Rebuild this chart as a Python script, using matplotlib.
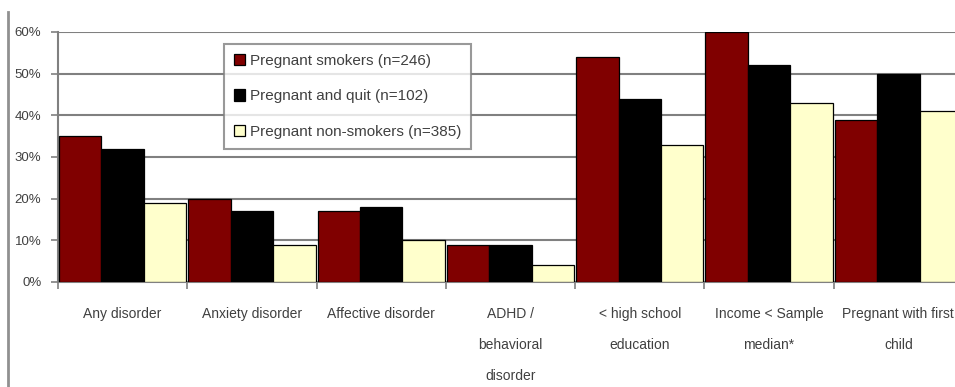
import matplotlib.pyplot as plt
import numpy as np
from matplotlib.lines import Line2D

plt.rcParams['font.family'] = ['Liberation Sans', 'DejaVu Sans']

categories = ['Any disorder', 'Anxiety disorder', 'Affective disorder',
              'ADHD /\nbehavioral\ndisorder', '< high school\neducation',
              'Income < Sample\nmedian*', 'Pregnant with first\nchild']
smokers = [35, 20, 17, 9, 54, 60, 39]
quit_ = [32, 17, 18, 9, 44, 52, 50]
non_smokers = [19, 9, 10, 4, 33, 43, 41]
series_labels = ['Pregnant smokers (n=246)', 'Pregnant and quit (n=102)',
                 'Pregnant non-smokers (n=385)']
colors = ['#800000', '#000000', '#FFFFCC']

fig = plt.figure(figsize=(9.55, 3.87), dpi=100)
ax = fig.add_axes([58 / 955, 1 - 282 / 387, 905 / 955, 250 / 387])

x = np.arange(len(categories))
w = 0.328
for i, (vals, c, lab) in enumerate(zip([smokers, quit_, non_smokers], colors, series_labels)):
    ax.bar(x + (i - 1) * w, vals, width=w, color=c, edgecolor='black',
           linewidth=0.9, label=lab, zorder=3)

ax.set_xlim(-0.5, len(categories) - 0.5)
ax.set_ylim(0, 60)
ax.set_yticks(range(0, 61, 10))
ax.set_yticklabels([f'{v}%' for v in range(0, 61, 10)], fontsize=9.5, color='#404040')
ax.yaxis.grid(True, color='#808080', linewidth=1.5, zorder=0)

# ticks between category groups, labels centred under each group
ax.set_xticks(np.arange(-0.5, len(categories), 1))
ax.set_xticklabels([])
ax.set_xticks(x, minor=True)
ax.set_xticklabels(categories, minor=True, fontsize=10, color='#404040',
                   linespacing=2.55, va='top')
ax.tick_params(axis='x', which='minor', length=0, pad=18)
ax.tick_params(axis='x', which='major', length=5, color='#808080', width=1.2)
ax.tick_params(axis='y', length=5, color='#808080', width=1.2, pad=7)

for s in ['top', 'right']:
    ax.spines[s].set_visible(False)
for s in ['left', 'bottom']:
    ax.spines[s].set_color('#808080')
    ax.spines[s].set_linewidth(1.5)

leg = ax.legend(loc='upper left', bbox_to_anchor=(0.183, 0.952), fontsize=11,
                frameon=True, fancybox=False, edgecolor='#808080',
                handlelength=0.75, handleheight=0.75, handletextpad=0.3,
                labelspacing=1.4, borderpad=0.65, borderaxespad=0)
leg.get_frame().set_linewidth(1.5)
for t in leg.get_texts():
    t.set_color('#404040')

# frame line on the left of the picture
fig.add_artist(Line2D([8 / 955, 8 / 955], [0, 1 - 12 / 387], color='#909090', linewidth=2))

fig.savefig('out.png', dpi=100)
